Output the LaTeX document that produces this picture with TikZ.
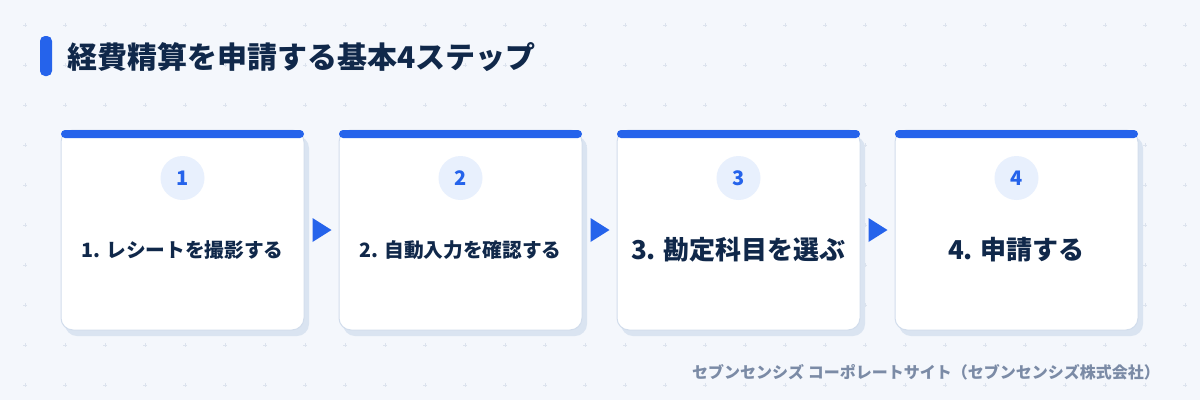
\documentclass[tikz,border=0pt]{standalone}
\usepackage{fontspec}
\setmainfont{Noto Sans CJK JP}
\usetikzlibrary{calc}
\definecolor{bg}{HTML}{F4F7FC}
\definecolor{gridc}{HTML}{DCE3EE}
\definecolor{blue}{HTML}{2563EB}
\definecolor{navy}{HTML}{10284A}
\definecolor{cardline}{HTML}{D2DDEC}
\definecolor{shadowc}{HTML}{DAE4F1}
\definecolor{circfill}{HTML}{E8F0FD}
\definecolor{foot}{HTML}{7B8BA6}
\tikzset{
  card/.style={draw=cardline, line width=1pt, fill=white, rounded corners=12pt,
    minimum width=243pt, minimum height=200pt, inner sep=0pt},
  numcirc/.style={circle, fill=circfill, minimum size=44pt, inner sep=0pt,
    text=blue, font=\bfseries\fontsize{20}{24}\selectfont},
  smalltxt/.style={text=navy, font=\bfseries\fontsize{19.7}{23}\selectfont},
  bigtxt/.style={text=navy, font=\bfseries\fontsize{26}{30}\selectfont},
  topbar/.style={fill=blue, rounded corners=4pt},
  shadowbox/.style={fill=shadowc, rounded corners=12pt},
  tri/.style={fill=blue},
  plus/.style={draw=gridc, line width=0.9pt}
}
\begin{document}
\begin{tikzpicture}[x=1pt,y=-1pt]
\useasboundingbox (0,0) rectangle (1200,400);
\fill[bg] (0,0) rectangle (1200,400);
% grid of plus marks
\foreach \gx in {25,65,...,1185} {
  \foreach \gy in {25,65,...,385} {
    \draw[plus] (\gx-2,\gy) -- (\gx+2,\gy) (\gx,\gy-2) -- (\gx,\gy+2);
  }
}
% title
\fill[blue, rounded corners=5pt] (40,36) rectangle (52,76);
\node[anchor=west, text=navy, font=\bfseries\fontsize{30}{35}\selectfont, inner sep=0pt] (title) at (67.5,57) {経費精算を申請する基本4ステップ};
% cards
\foreach \i/\cx in {1/182.5,2/460.5,3/738.5,4/1016.5} {
  \fill[shadowbox] (\cx-117.5,136) rectangle (\cx+126.5,336);
  \node[card] (c\i) at (\cx,230) {};
  \fill[topbar] (\cx-121.5,130) rectangle (\cx+121.5,138);
  \node[numcirc] (n\i) at (\cx,178) {\i};
}
\node[smalltxt] (t1) at (182.5,250) {1. レシートを撮影する};
\node[smalltxt] (t2) at (460.5,250) {2. 自動入力を確認する};
\node[bigtxt] (t3) at (738.5,250) {3. 勘定科目を選ぶ};
\node[bigtxt] (t4) at (1016.5,250) {4. 申請する};
% arrows
\foreach \a/\b in {c1/c2,c2/c3,c3/c4} {
  \fill[tri] ($(\a.east)+(8,-12)$) -- ($(\a.east)+(27,0)$) -- ($(\a.east)+(8,12)$) -- cycle;
}
% footer
\node[anchor=east, text=foot, font=\bfseries\fontsize{16}{19}\selectfont, inner sep=0pt] (foot) at (1160,372) {セブンセンシズ コーポレートサイト（セブンセンシズ株式会社）};
\end{tikzpicture}
\end{document}
